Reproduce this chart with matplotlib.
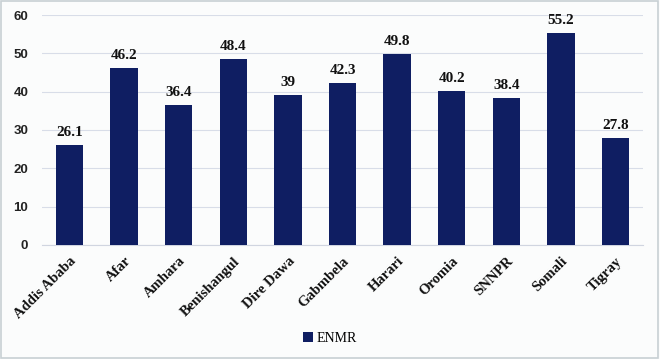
import matplotlib.pyplot as plt
import numpy as np

regions = ['Addis Ababa', 'Afar', 'Amhara', 'Benishangul', 'Dire Dawa', 'Gabmbela',
           'Harari', 'Oromia', 'SNNPR', 'Somali', 'Tigray']
enmr = [26.1, 46.2, 36.4, 48.4, 39, 42.3, 49.8, 40.2, 38.4, 55.2, 27.8]
value_labels = ['26.1', '46.2', '36.4', '48.4', '39', '42.3', '49.8', '40.2', '38.4', '55.2', '27.8']
yticks = [0, 10, 20, 30, 40, 50, 60]

bar_color = '#0f1e62'

fig = plt.figure(figsize=(6.6, 3.59), dpi=100, facecolor='#fbfcfc')
ax = fig.add_axes([0.064, 0.318, 0.91, 0.64])
ax.set_facecolor('#fbfcfc')

x = np.arange(len(regions))
bars = ax.bar(x, enmr, width=0.5, color=bar_color, label='ENMR', zorder=3)

for xi, v, lab in zip(x, enmr, value_labels):
    ax.text(xi, v + 1.6, lab, ha='center', va='bottom', fontsize=11,
            fontweight='bold', family='Liberation Serif', color='#111111')

ax.set_ylim(0, 60)
ax.set_xlim(-0.5, len(regions) - 0.5)
ax.set_yticks(yticks)
ax.set_yticklabels([str(t) for t in yticks], fontsize=9.5, fontweight='bold',
                   family='Liberation Sans', color='#222222')
ax.set_xticks(x)
ax.set_xticklabels(regions, rotation=45, ha='right', rotation_mode='anchor',
                   fontsize=10.5, fontweight='bold', family='Liberation Serif', color='#111111')
ax.tick_params(axis='both', length=0, pad=10)
ax.tick_params(axis='x', pad=7)
ax.grid(axis='y', color='#d8dde8', linewidth=0.8, zorder=0)
for s in ['top', 'right', 'left']:
    ax.spines[s].set_visible(False)
ax.spines['bottom'].set_color('#d0d5e0')

fig.legend(loc='center', bbox_to_anchor=(0.5, 0.058), frameon=False, handlelength=0.7,
           handleheight=0.7, handletextpad=0.3,
           prop={'family': 'Liberation Serif', 'size': 10})

fig.patches.append(plt.Rectangle((0.002, 0.003), 0.995, 0.994, transform=fig.transFigure,
                                 fill=False, edgecolor='#c8d0d4', linewidth=1.2))

plt.savefig('out.png', dpi=100, facecolor=fig.get_facecolor())
